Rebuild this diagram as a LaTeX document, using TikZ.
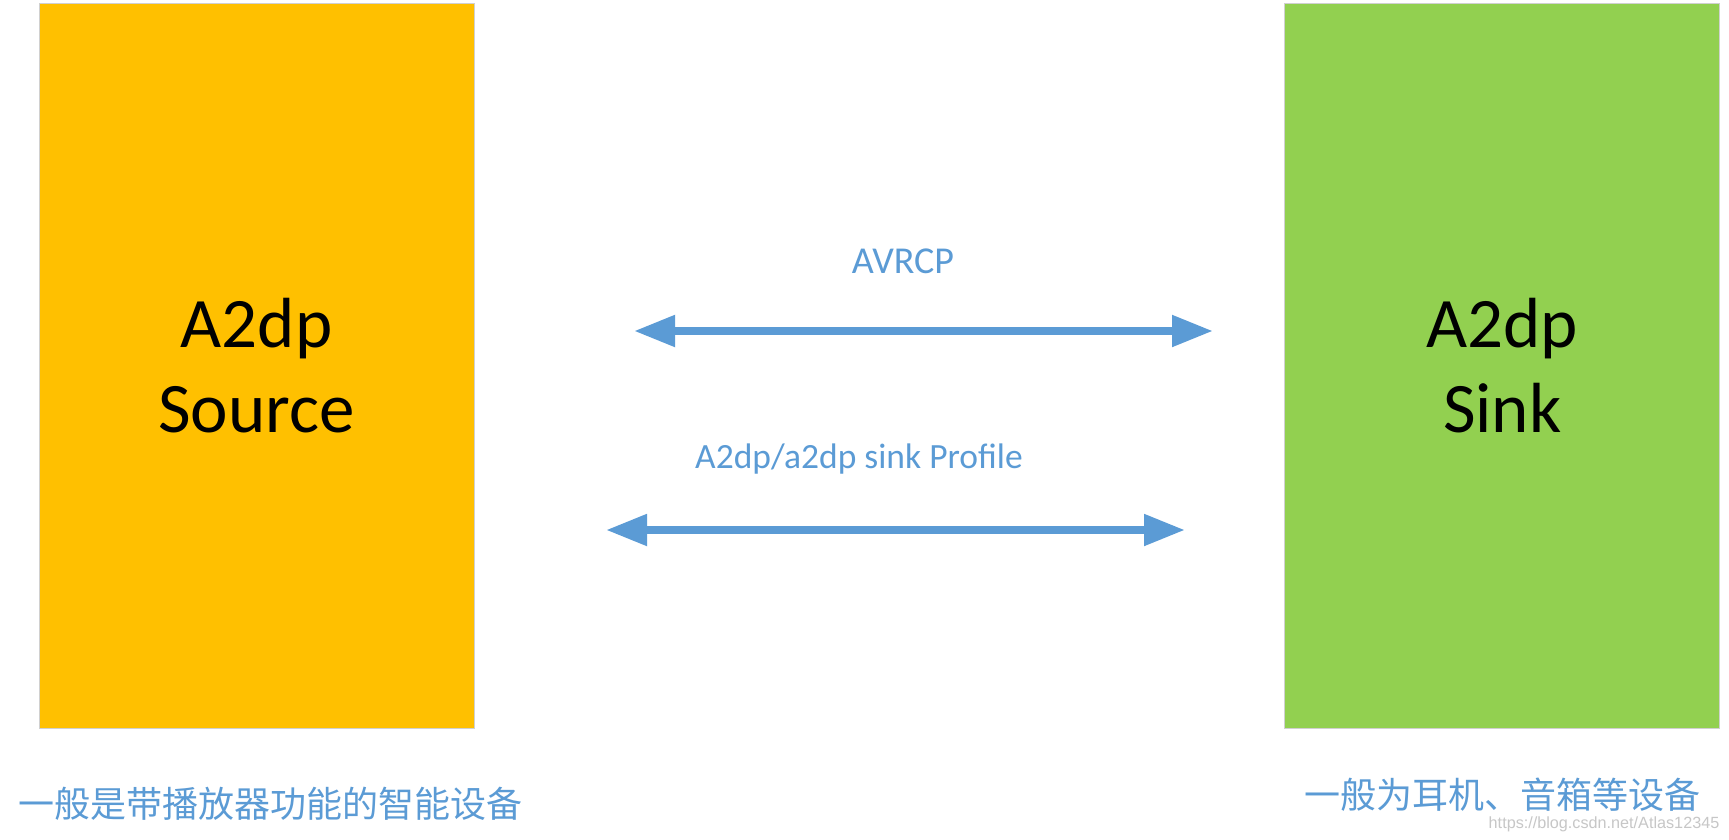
\documentclass[tikz,border=0pt]{standalone}
\usepackage{fontspec}
\setmainfont{Carlito}
\newfontfamily\cjk{Noto Sans CJK SC}
\newfontfamily\wmfont{Liberation Sans}
\usetikzlibrary{arrows.meta}
\definecolor{srcorange}{HTML}{FFC000}
\definecolor{sinkgreen}{HTML}{92D050}
\definecolor{linkblue}{HTML}{5B9BD5}
\definecolor{edgegray}{HTML}{D0D0D0}
\tikzset{
  devbox/.style={rectangle, draw=edgegray, line width=1pt, minimum width=435pt, minimum height=725pt,
    inner sep=0pt, align=center, font=\fontsize{71}{85}\selectfont, text=black},
  linklabel/.style={text=linkblue, font=\fontsize{35.5}{40}\selectfont, inner sep=0pt},
  cjklabel/.style={text=linkblue, font=\cjk\fontsize{36}{40}\selectfont, inner sep=0pt},
  biarrow/.style={draw=linkblue, line width=8pt,
    {Triangle[length=41pt,width=30pt]}-{Triangle[length=41pt,width=30pt]}}
}
\begin{document}
\begin{tikzpicture}[x=1pt,y=-1pt]
\useasboundingbox[fill=white] (0,0) rectangle (1729,840);
\node[devbox, fill=srcorange] (src) at (256.5,365.8) {A2dp\\Source};
\node[devbox, fill=sinkgreen] (sink) at (1502.3,365.8) {A2dp\\Sink};
\coordinate (t1) at (634,331);
\coordinate (t2) at (1213,331);
\coordinate (b1) at (606,530);
\coordinate (b2) at (1185,530);
\draw[biarrow] (t1) -- (t2);
\draw[biarrow] (b1) -- (b2);
\node[linklabel, font=\fontsize{38}{42}\selectfont] (avrcp) at (903,261) {AVRCP};
\node[linklabel] (prof) at (859,459) {A2dp/a2dp sink Profile};
\node[cjklabel] (srcnote) at (270,804) {一般是带播放器功能的智能设备};
\node[cjklabel] (sinknote) at (1502,795) {一般为耳机、音箱等设备};
\node[text=black!22, font=\wmfont\fontsize{16.2}{18}\selectfont, inner sep=0pt] (wm) at (1604,824) {https://blog.csdn.net/Atlas12345};
\end{tikzpicture}
\end{document}
